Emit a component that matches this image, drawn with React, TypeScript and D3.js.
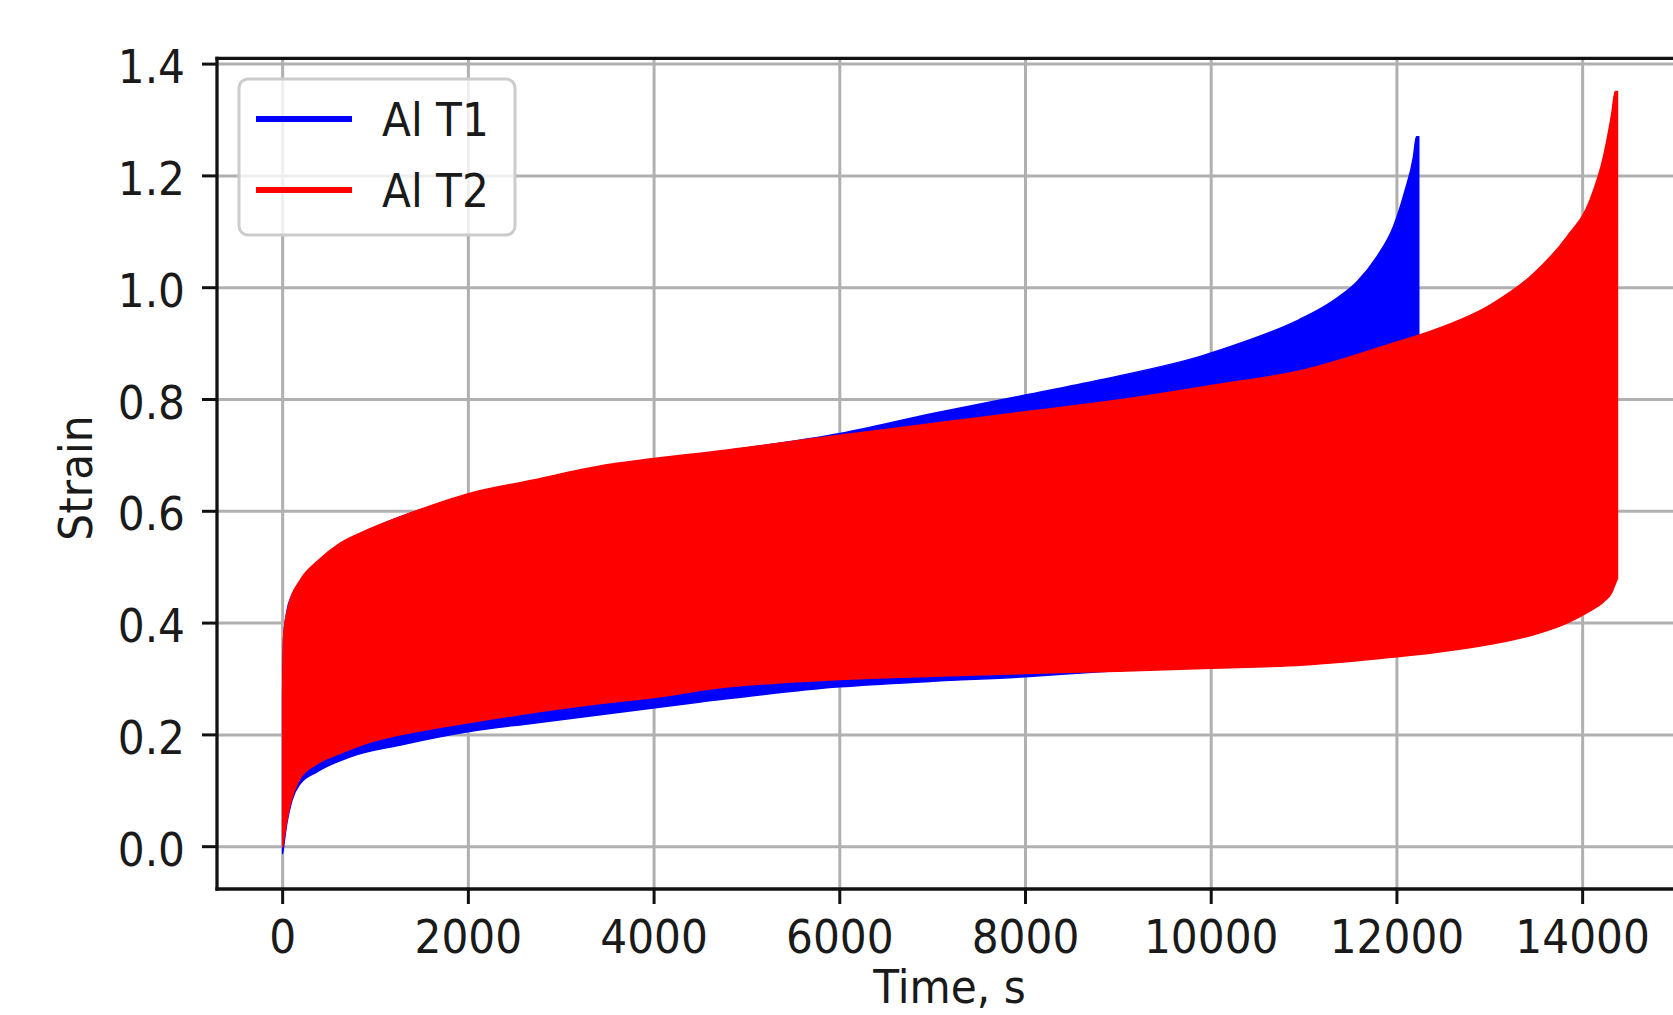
import React, { useEffect, useRef } from 'react';
import * as d3 from 'd3';

const width = 1673;
const height = 1015;

const t1Time = [0, 10, 45, 100, 190, 370, 730, 1270, 2010, 2700, 3420, 4500, 6000, 7000, 8000, 8800, 9900, 10250, 10600, 10950, 11316, 11568, 11783, 11962, 12088, 12178, 12210, 12235];
const t1Lower = [-0.012, 0.0, 0.042, 0.083, 0.113, 0.134, 0.161, 0.182, 0.206, 0.221, 0.236, 0.259, 0.286, 0.296, 0.304, 0.313, 0.323, 0.326, 0.328, 0.331, 0.335, 0.338, 0.341, 0.344, 0.347, 0.349, 0.35, 0.35];
const t1Upper = [0.27, 0.37, 0.42, 0.45, 0.475, 0.508, 0.55, 0.59, 0.628, 0.652, 0.676, 0.702, 0.739, 0.775, 0.808, 0.835, 0.878, 0.897, 0.918, 0.943, 0.977, 1.01, 1.055, 1.109, 1.174, 1.234, 1.27, 1.27];

// Al T2 (red)
const t2Time = [0, 10, 60, 190, 370, 620, 905, 1410, 2010, 2700, 3420, 4135, 4500, 6000, 7000, 8000, 9000, 10000, 11000, 12000, 12393, 13003, 13470, 13830, 14080, 14224, 14314, 14351, 14375];
const t2Lower = [0.0, 0.01, 0.06, 0.123, 0.148, 0.167, 0.185, 0.205, 0.222, 0.24, 0.256, 0.27, 0.28, 0.299, 0.305, 0.31, 0.314, 0.319, 0.325, 0.34, 0.347, 0.362, 0.379, 0.4, 0.422, 0.438, 0.455, 0.47, 0.48];
const t2Upper = [0.28, 0.376, 0.429, 0.477, 0.51, 0.543, 0.566, 0.599, 0.632, 0.656, 0.681, 0.697, 0.704, 0.736, 0.757, 0.778, 0.799, 0.825, 0.853, 0.903, 0.924, 0.969, 1.025, 1.091, 1.157, 1.234, 1.312, 1.351, 1.351];

const seriesNames = ['Al T1', 'Al T2'];
const seriesColors = ['#0000ff', '#ff0000'];

const xTicks = [0, 2000, 4000, 6000, 8000, 10000, 12000, 14000];
const yTicks = [0, 0.2, 0.4, 0.6, 0.8, 1.0, 1.2, 1.4];

const font = 'DejaVu Sans';
const fontSize = 47;
const squeeze = 0.9; // the picture is a bit stretched vertically
const ink = '#1a1a1a';

function App() {
  const ref = useRef<SVGSVGElement>(null);

  useEffect(() => {
    const svg = d3.select(ref.current);
    svg.selectAll('*').remove();

    const left = 217, right = 1682, top = 58.3, bottom = 889;
    const x = d3.scaleLinear().domain([-707, 15070]).range([left, right]);
    const y = d3.scaleLinear().domain([-0.0757, 1.4104]).range([bottom, top]);

    const label = (str: string, tx: number, ty: number, anchor: string, rotate = 0) =>
      svg.append('text')
        .attr('transform', `translate(${tx},${ty}) rotate(${rotate}) scale(${squeeze},1)`)
        .attr('text-anchor', anchor)
        .attr('font-family', font)
        .attr('font-size', fontSize)
        .attr('fill', ink)
        .text(str);

    // grid
    const grid = svg.append('g').attr('stroke', '#b0b0b0').attr('stroke-width', 3);
    grid.selectAll('.gx').data(xTicks).enter().append('line')
      .attr('x1', d => x(d)).attr('x2', d => x(d)).attr('y1', top).attr('y2', bottom);
    grid.selectAll('.gy').data(yTicks).enter().append('line')
      .attr('x1', left).attr('x2', right).attr('y1', d => y(d)).attr('y2', d => y(d));

    // envelopes, blue under red
    const series = [
      { time: t1Time, lo: t1Lower, hi: t1Upper },
      { time: t2Time, lo: t2Lower, hi: t2Upper },
    ];
    series.forEach((s, i) => {
      const area = d3.area<number>()
        .x(k => x(s.time[k]))
        .y0(k => y(s.lo[k]))
        .y1(k => y(s.hi[k]))
        .curve(d3.curveMonotoneX);
      svg.append('path')
        .attr('d', area(d3.range(s.time.length)))
        .attr('fill', seriesColors[i])
        .attr('stroke', seriesColors[i])
        .attr('stroke-width', 1.5)
        .attr('stroke-linejoin', 'round');
    });

    // spines (right one falls outside the picture)
    const spines = svg.append('g').attr('stroke', '#111').attr('stroke-width', 3.3).attr('stroke-linecap', 'square');
    spines.append('line').attr('x1', left).attr('x2', left).attr('y1', top).attr('y2', bottom);
    spines.append('line').attr('x1', left).attr('x2', right).attr('y1', bottom).attr('y2', bottom);
    spines.append('line').attr('x1', left).attr('x2', right).attr('y1', top).attr('y2', top);

    // ticks
    const ticks = svg.append('g').attr('stroke', '#111').attr('stroke-width', 3);
    ticks.selectAll('.tx').data(xTicks).enter().append('line')
      .attr('x1', d => x(d)).attr('x2', d => x(d)).attr('y1', bottom).attr('y2', bottom + 15);
    ticks.selectAll('.ty').data(yTicks).enter().append('line')
      .attr('x1', left - 15).attr('x2', left).attr('y1', d => y(d)).attr('y2', d => y(d));

    xTicks.forEach(t => label(String(t), x(t), 953, 'middle'));
    yTicks.forEach(v => label(d3.format('.1f')(v), 185, y(v) + 19, 'end'));

    label('Time, s', (left + right) / 2, 1003, 'middle');
    label('Strain', 92, 478, 'middle', -90);

    // legend
    const lg = svg.append('g');
    lg.append('rect')
      .attr('x', 239).attr('y', 79).attr('width', 276).attr('height', 156).attr('rx', 9)
      .attr('fill', 'white').attr('fill-opacity', 0.8)
      .attr('stroke', '#cccccc').attr('stroke-width', 3);
    seriesNames.forEach((name, i) => {
      const ly = 119 + i * 71;
      lg.append('line')
        .attr('x1', 256).attr('x2', 352).attr('y1', ly).attr('y2', ly)
        .attr('stroke', seriesColors[i]).attr('stroke-width', 6);
      label(name, 382, ly + 17, 'start');
    });
  }, []);

  return (
    <svg
      ref={ref}
      width={width}
      height={height}
      style={{ position: 'absolute', left: 0, top: 0, display: 'block', background: 'white' }}
    />
  );
}

export default App;
